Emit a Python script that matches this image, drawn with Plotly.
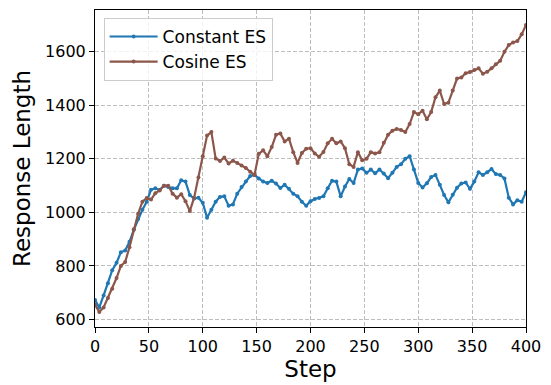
import plotly.graph_objects as go

steps = list(range(0, 401, 4))

constant_es = [
    673, 645, 690, 735, 784, 812, 851, 858, 890, 935,
    975, 1010, 1040, 1085, 1090, 1084, 1100, 1095, 1090, 1090,
    1120, 1115, 1065, 1052, 1055, 1036, 980, 1010, 1040, 1058,
    1060, 1025, 1030, 1070, 1095, 1115, 1136, 1140, 1127, 1115,
    1110, 1118, 1108, 1091, 1103, 1088, 1070, 1060, 1040, 1025,
    1042, 1050, 1054, 1060, 1090, 1118, 1115, 1060, 1097, 1125,
    1110, 1160, 1164, 1148, 1160, 1146, 1160, 1145, 1128, 1148,
    1170, 1180, 1200, 1210, 1160, 1110, 1093, 1109, 1132, 1140,
    1103, 1065, 1038, 1066, 1092, 1108, 1112, 1088, 1115, 1150,
    1140, 1150, 1162, 1143, 1140, 1127, 1055, 1030, 1045, 1040,
    1075,
]

cosine_es = [
    655, 628, 645, 680, 715, 755, 800, 815, 870, 937,
    995, 1040, 1054, 1048, 1072, 1082, 1100, 1100, 1070, 1055,
    1068, 1042, 1005, 1055, 1130, 1210, 1287, 1300, 1201, 1192,
    1205, 1183, 1193, 1185, 1175, 1166, 1152, 1140, 1219, 1232,
    1210, 1244, 1290, 1295, 1265, 1275, 1225, 1185, 1222, 1238,
    1240, 1220, 1208, 1226, 1258, 1275, 1258, 1265, 1240, 1180,
    1170, 1225, 1195, 1200, 1225, 1220, 1225, 1260, 1290, 1305,
    1312, 1308, 1300, 1330, 1375, 1367, 1380, 1348, 1375, 1430,
    1455, 1405, 1410, 1455, 1500, 1504, 1520, 1524, 1532, 1538,
    1518, 1525, 1538, 1553, 1566, 1600, 1625, 1635, 1640, 1665,
    1700,
]

x_ticks = [0, 50, 100, 150, 200, 250, 300, 350, 400]
y_ticks = [600, 800, 1000, 1200, 1400, 1600]

FONT = "DejaVu Sans"

fig = go.Figure()
fig.add_trace(go.Scatter(
    x=steps, y=constant_es, name="Constant ES", mode="lines+markers",
    line=dict(color="#1f77b4", width=2.2), marker=dict(color="#1f77b4", size=4),
))
fig.add_trace(go.Scatter(
    x=steps, y=cosine_es, name="Cosine ES", mode="lines+markers",
    line=dict(color="#8c564b", width=2.2), marker=dict(color="#8c564b", size=4),
))

axis_common = dict(
    showline=True, mirror=True, linecolor="black", linewidth=1,
    ticks="outside", ticklen=5, tickwidth=1, tickcolor="black",
    showgrid=True, gridcolor="#bdbdbd", gridwidth=0.8, griddash="4px,2px",
    zeroline=False, tickfont=dict(family=FONT, size=16, color="black"),
)

fig.update_xaxes(range=[0, 400], tickvals=x_ticks,
                 title=dict(text="Step", font=dict(family=FONT, size=23, color="black"), standoff=4),
                 **axis_common)
fig.update_yaxes(range=[572, 1756], tickvals=y_ticks,
                 title=dict(text="Response Length", font=dict(family=FONT, size=23, color="black"), standoff=8),
                 **axis_common)

fig.update_layout(
    width=551, height=385,
    margin=dict(l=95, r=25, t=9, b=54),
    plot_bgcolor="white", paper_bgcolor="white",
    font=dict(family=FONT, color="black"),
    legend=dict(
        x=0.02, y=0.975, xanchor="left", yanchor="top",
        bgcolor="rgba(255,255,255,0.8)", bordercolor="#cccccc", borderwidth=1,
        font=dict(family=FONT, size=17, color="black"), itemwidth=48,
    ),
)

fig.write_html("out.html")
